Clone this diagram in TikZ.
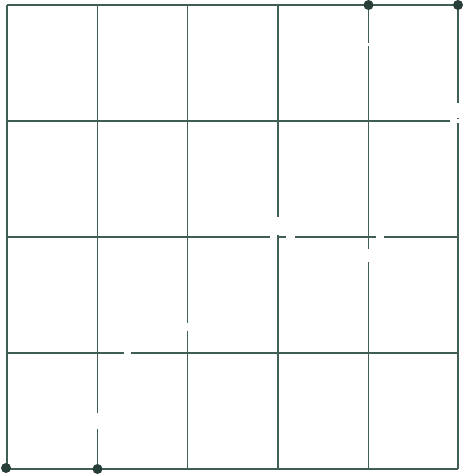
\documentclass[tikz,border=0pt]{standalone}
\definecolor{gridgreen}{HTML}{3F5E55}
\definecolor{dotgreen}{HTML}{283E38}
\begin{document}
\begin{tikzpicture}[x=1pt,y=-1pt,
    gridline/.style={gridgreen,line width=1.5pt},
    cutmark/.style={white,line width=4pt},
    gridpoint/.style={fill=dotgreen}]
    \useasboundingbox (0,0) rectangle (473,476);

    % Lignes de la grille
    \foreach \x in {7,97.5,187.5,278,368.5,458}
        \draw[gridline] (\x,5) -- (\x,469);
    \foreach \y in {5,121,237,353,469}
        \draw[gridline] (7,\y) -- (458,\y);

    % Coupures blanches
    \foreach \x/\ya/\yb in {97.5/413/429,187.5/323/331,278/217/235,368.5/249/262,368.5/43/46,458/103/118}
        \draw[cutmark] (\x,\ya) -- (\x,\yb);
    \foreach \y/\xa/\xb in {353/124/131,237/270/277,237/286/295,237/376/384,121/450/464}
        \draw[cutmark] (\xa,\y) -- (\xb,\y);

    % Points
    \coordinate (A) at (6,468);
    \coordinate (B) at (97.5,469);
    \coordinate (C) at (368.5,5);
    \coordinate (D) at (458,5);
    \foreach \p in {A,B,C,D}
        \fill[gridpoint] (\p) circle (5pt);
\end{tikzpicture}
\end{document}
